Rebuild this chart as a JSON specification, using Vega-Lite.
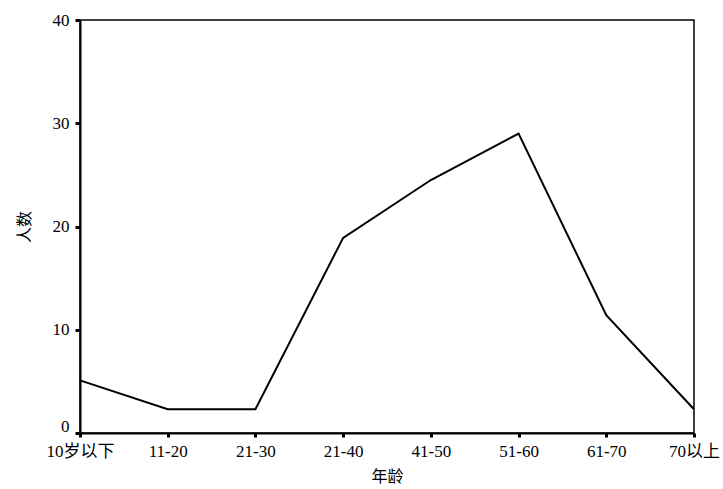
{
  "$schema": "https://vega.github.io/schema/vega-lite/v6.json",
  "width": 614,
  "height": 413,
  "autosize": "none",
  "padding": {"left": 80, "top": 20, "right": 29, "bottom": 56},
  "background": "white",
  "config": {
    "view": {"stroke": "black", "strokeWidth": 1.5},
    "font": "Liberation Serif",
    "axis": {
      "grid": false,
      "domainColor": "black",
      "domainWidth": 2,
      "tickColor": "black",
      "tickWidth": 3,
      "labelColor": "black",
      "labelFont": "Liberation Serif, Noto Sans CJK SC",
      "labelFontSize": 17,
      "titleColor": "black",
      "titleFont": "Noto Sans CJK SC",
      "titleFontSize": 16,
      "titleFontWeight": "normal"
    }
  },
  "data": {
    "values": [
      {"age": "10岁以下", "count": 5.1},
      {"age": "11-20", "count": 2.3},
      {"age": "21-30", "count": 2.3},
      {"age": "21-40", "count": 18.9},
      {"age": "41-50", "count": 24.5},
      {"age": "51-60", "count": 29},
      {"age": "61-70", "count": 11.4},
      {"age": "70以上", "count": 2.3}
    ]
  },
  "mark": {"type": "line", "color": "black", "strokeWidth": 2},
  "encoding": {
    "x": {
      "field": "age",
      "type": "ordinal",
      "sort": null,
      "scale": {"type": "point", "padding": 0},
      "axis": {
        "title": "年龄",
        "labelAngle": 0,
        "tickSize": 4,
        "labelPadding": 6,
        "titlePadding": 9
      }
    },
    "y": {
      "field": "count",
      "type": "quantitative",
      "scale": {"domain": [0, 40]},
      "axis": {
        "title": "人数",
        "values": [0, 10, 20, 30, 40],
        "tickSize": 5,
        "labelPadding": 6,
        "titlePadding": 20,
        "labelOffset": {"condition": {"test": "datum.value == 0", "value": -7}, "value": 0}
      }
    }
  }
}
